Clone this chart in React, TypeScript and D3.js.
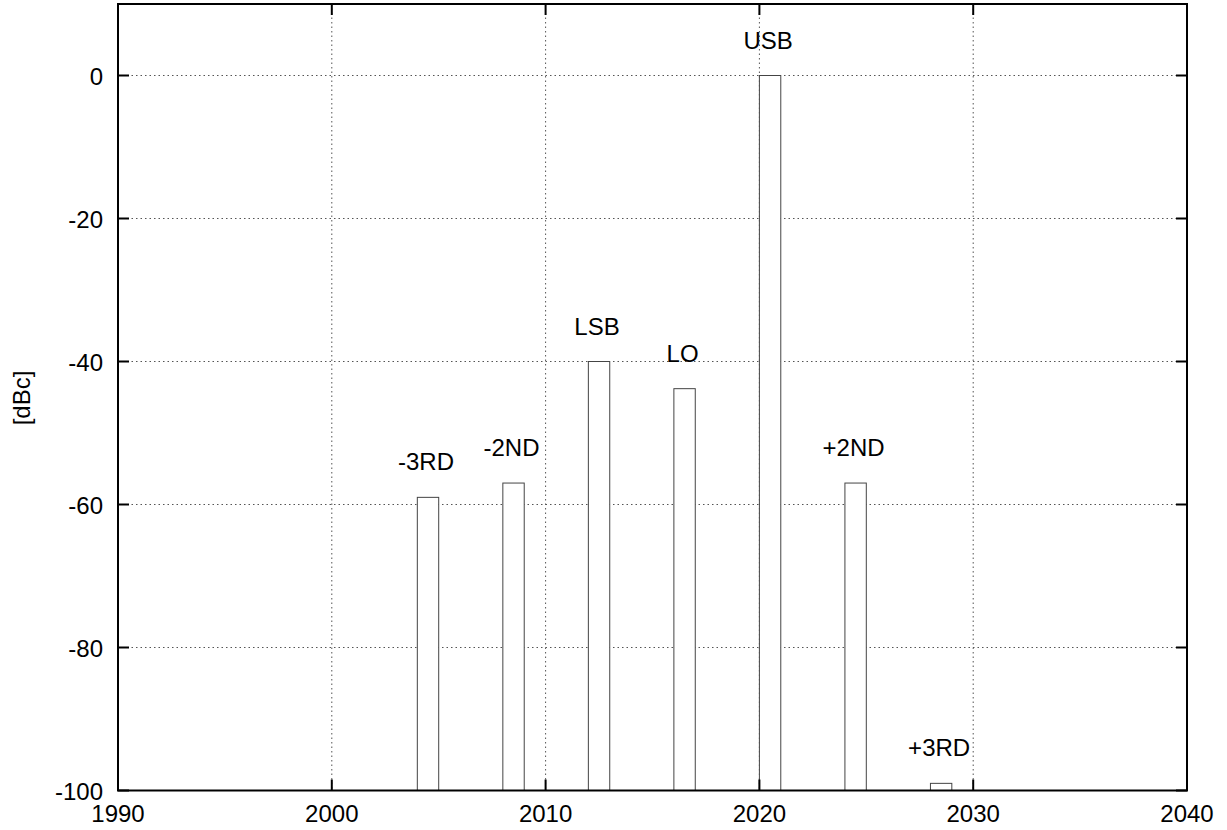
import React from "react";
import * as d3 from "d3";

// Spectrum components: bar centre (MHz), level (dBc) and name
const freqs = [2004.5, 2008.5, 2012.5, 2016.5, 2020.5, 2024.5, 2028.5];
const levels = [-59, -57, -40, -43.8, 0, -57, -99];
const names = ["-3RD", "-2ND", "LSB", "LO", "USB", "+2ND", "+3RD"];
const barWidth = 1;

const xTicks = [1990, 2000, 2010, 2020, 2030, 2040];
const yTicks = [-100, -80, -60, -40, -20, 0];

const W = 1227;
const H = 830;
const left = 118;
const right = 1187;
const top = 4;
const bottom = 790.5;
const font = "'Liberation Sans', Arial, Helvetica, sans-serif";

export default function App() {
  const x = d3.scaleLinear().domain([1990, 2040]).range([left, right]);
  const y = d3.scaleLinear().domain([-100, 10]).range([bottom, top]);
  const tickLen = 11;

  return (
    <svg
      width={W}
      height={H}
      style={{ position: "absolute", left: 0, top: 0, background: "#fff" }}
      fontFamily={font}
    >
      <rect x={0} y={0} width={W} height={H} fill="#fff" />
      {/* grid */}
      <g stroke="#555" strokeWidth={1} strokeDasharray="1.5,3">
        {xTicks.slice(1, -1).map((t) => (
          <line key={"gx" + t} x1={x(t)} x2={x(t)} y1={top} y2={bottom} />
        ))}
        {yTicks.slice(1).map((t) => (
          <line key={"gy" + t} x1={left} x2={right} y1={y(t)} y2={y(t)} />
        ))}
      </g>
      {/* bars */}
      <g fill="#fff" stroke="#444" strokeWidth={1}>
        {freqs.map((f, i) => (
          <rect
            key={"b" + i}
            x={x(f - barWidth / 2)}
            y={y(levels[i])}
            width={x(f + barWidth / 2) - x(f - barWidth / 2)}
            height={y(-100) - y(levels[i])}
          />
        ))}
      </g>
      {/* labels */}
      <g fontSize={24} textAnchor="middle" fill="#000">
        {freqs.map((f, i) => (
          <text key={"l" + i} x={x(f) - 2} y={y(levels[i]) - 27}>
            {names[i]}
          </text>
        ))}
      </g>
      {/* ticks */}
      <g stroke="#000" strokeWidth={2}>
        {xTicks.map((t) => (
          <g key={"tx" + t}>
            <line x1={x(t)} x2={x(t)} y1={bottom} y2={bottom - tickLen} />
            <line x1={x(t)} x2={x(t)} y1={top} y2={top + tickLen} />
          </g>
        ))}
        {yTicks.map((t) => (
          <g key={"ty" + t}>
            <line x1={left} x2={left + tickLen} y1={y(t)} y2={y(t)} />
            <line x1={right} x2={right - tickLen} y1={y(t)} y2={y(t)} />
          </g>
        ))}
      </g>
      {/* frame */}
      <rect
        x={left}
        y={top}
        width={right - left}
        height={bottom - top}
        fill="none"
        stroke="#000"
        strokeWidth={2}
      />
      {/* tick labels */}
      <g fontSize={24} fill="#000">
        {yTicks.map((t) => (
          <text key={"yl" + t} x={103} y={y(t) + 9} textAnchor="end">
            {t}
          </text>
        ))}
        {xTicks.map((t) => (
          <text key={"xl" + t} x={x(t)} y={822} textAnchor="middle">
            {t}
          </text>
        ))}
      </g>
      <text
        x={0}
        y={0}
        fontSize={24}
        textAnchor="middle"
        dominantBaseline="central"
        transform="translate(21,398) rotate(-90)"
      >
        [dBc]
      </text>
    </svg>
  );
}
